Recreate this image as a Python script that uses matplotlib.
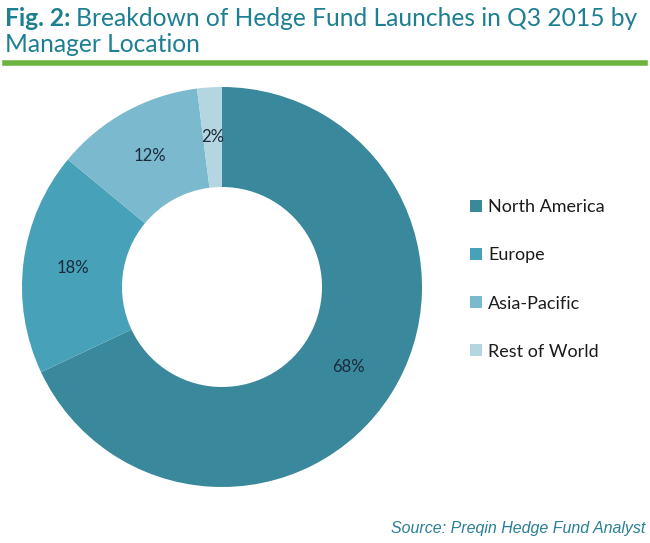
import matplotlib.pyplot as plt

# Data
regions = ['North America', 'Europe', 'Asia-Pacific', 'Rest of World']
shares = [68, 18, 12, 2]
colors = ['#3a889c', '#46a1b9', '#7bb9cf', '#b3d6e1']

plt.rcParams['font.family'] = ['Lato', 'DejaVu Sans']

fig = plt.figure(figsize=(6.5, 5.43), dpi=100)
title_color = '#1d7f92'

# Title: bold "Fig. 2:" followed by the regular text
fig_lbl = fig.text(5 / 650, 1 - 18 / 543, 'Fig. 2:', fontsize=17.7, fontweight='bold',
                   color=title_color, va='center', ha='left')
renderer = fig.canvas.get_renderer()
bb = fig_lbl.get_window_extent(renderer)
fig.text((bb.x1 + 6) / 650, 1 - 18 / 543,
         'Breakdown of Hedge Fund Launches in Q3 2015 by',
         fontsize=17.7, color=title_color, va='center', ha='left')
fig.text(5 / 650, 1 - 45 / 543, 'Manager Location', fontsize=17.7,
         color=title_color, va='center', ha='left')

# Green rule under the title
fig.add_artist(plt.Line2D([5 / 650, 645 / 650], [1 - 63 / 543, 1 - 63 / 543],
                          color='#6db33f', linewidth=4, transform=fig.transFigure))

# Donut
ax = fig.add_axes([22 / 650, (543 - 487) / 543, 400 / 650, 400 / 543])
wedges, texts, autotexts = ax.pie(
    shares, colors=colors, startangle=90, counterclock=False,
    autopct='%d%%', pctdistance=0.75,
    wedgeprops=dict(width=0.5, edgecolor='none'),
    textprops=dict(fontsize=12, color='#1b2a3a'))
ax.set_xlim(-1, 1)
ax.set_ylim(-1, 1)
ax.set_aspect('equal')

# Legend
fig.legend(wedges, regions, loc='upper left',
           bbox_to_anchor=(454 / 650, 1 - 183 / 543), frameon=False,
           fontsize=13, handlelength=0.65, handleheight=0.65, handletextpad=0.35,
           labelspacing=1.78, labelcolor='#1b1b1b')

# Source
fig.text(645 / 650, 1 - 528 / 543, 'Source: Preqin Hedge Fund Analyst',
         fontsize=11.5, style='italic', color='#2a7f96', ha='right', va='center',
         family='Liberation Sans')

fig.savefig('out.png', dpi=100)
